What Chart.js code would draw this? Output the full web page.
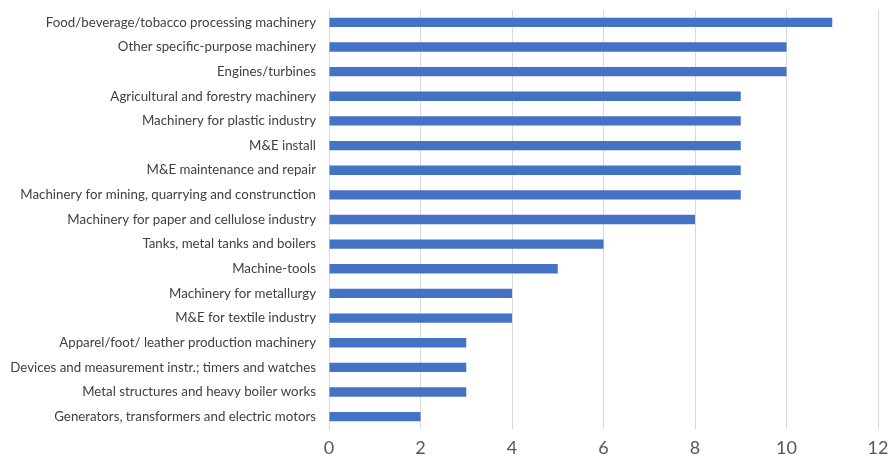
<!DOCTYPE html>
<html>
<head>
<meta charset="utf-8">
<script src="https://cdn.jsdelivr.net/npm/chart.js@4"></script>
<style>
  html, body { margin: 0; padding: 0; background: #ffffff; }
  #wrap { width: 890px; height: 468px; position: relative; }
</style>
</head>
<body>
<div id="wrap"><canvas id="barChart"></canvas></div>
<script>
const categories = [
    'Food/beverage/tobacco processing machinery',
    'Other specific-purpose machinery',
    'Engines/turbines',
    'Agricultural and forestry machinery',
    'Machinery for plastic industry',
    'M&E install',
    'M&E maintenance and repair',
    'Machinery for mining, quarrying and construnction',
    'Machinery for paper and cellulose industry',
    'Tanks, metal tanks and boilers',
    'Machine-tools',
    'Machinery for metallurgy',
    'M&E for textile industry',
    'Apparel/foot/ leather production machinery',
    'Devices and measurement instr.; timers and watches',
    'Metal structures and heavy boiler works',
    'Generators, transformers and electric motors'
];
const values = [11, 10, 10, 9, 9, 9, 9, 9, 8, 6, 5, 4, 4, 3, 3, 3, 2];
const xTicks = [0, 2, 4, 6, 8, 10, 12];

const ctx = document.getElementById('barChart').getContext('2d');
new Chart(ctx, {
    type: 'bar',
    data: {
        labels: categories,
        datasets: [{
            data: values,
            backgroundColor: '#4472c4',
            barPercentage: 0.38,
            categoryPercentage: 1.0
        }]
    },
    options: {
        indexAxis: 'y',
        responsive: true,
        maintainAspectRatio: false,
        animation: false,
        layout: { padding: 0 },
        scales: {
            x: {
                min: xTicks[0],
                max: xTicks[xTicks.length - 1],
                afterBuildTicks: axis => { axis.ticks = xTicks.map(v => ({ value: v })); },
                afterFit: axis => {
                    axis.height = 39;
                    axis.paddingLeft = 0;
                    axis.paddingRight = 12;
                },
                ticks: {
                    color: '#595959',
                    font: { family: 'Lato', size: 18 },
                    padding: 8
                },
                grid: { color: '#d9d9d9', lineWidth: 1, drawTicks: false },
                border: { display: false }
            },
            y: {
                afterFit: axis => {
                    axis.width = 329;
                    axis.paddingTop = 10;
                    axis.paddingBottom = 0;
                },
                ticks: {
                    color: '#404040',
                    font: { family: 'Lato', size: 13.3 },
                    padding: 13,
                    autoSkip: false
                },
                grid: { display: false, drawTicks: false },
                border: { color: '#d9d9d9', width: 1 }
            }
        },
        plugins: {
            legend: { display: false },
            tooltip: { enabled: false }
        }
    }
});
</script>
</body>
</html>
